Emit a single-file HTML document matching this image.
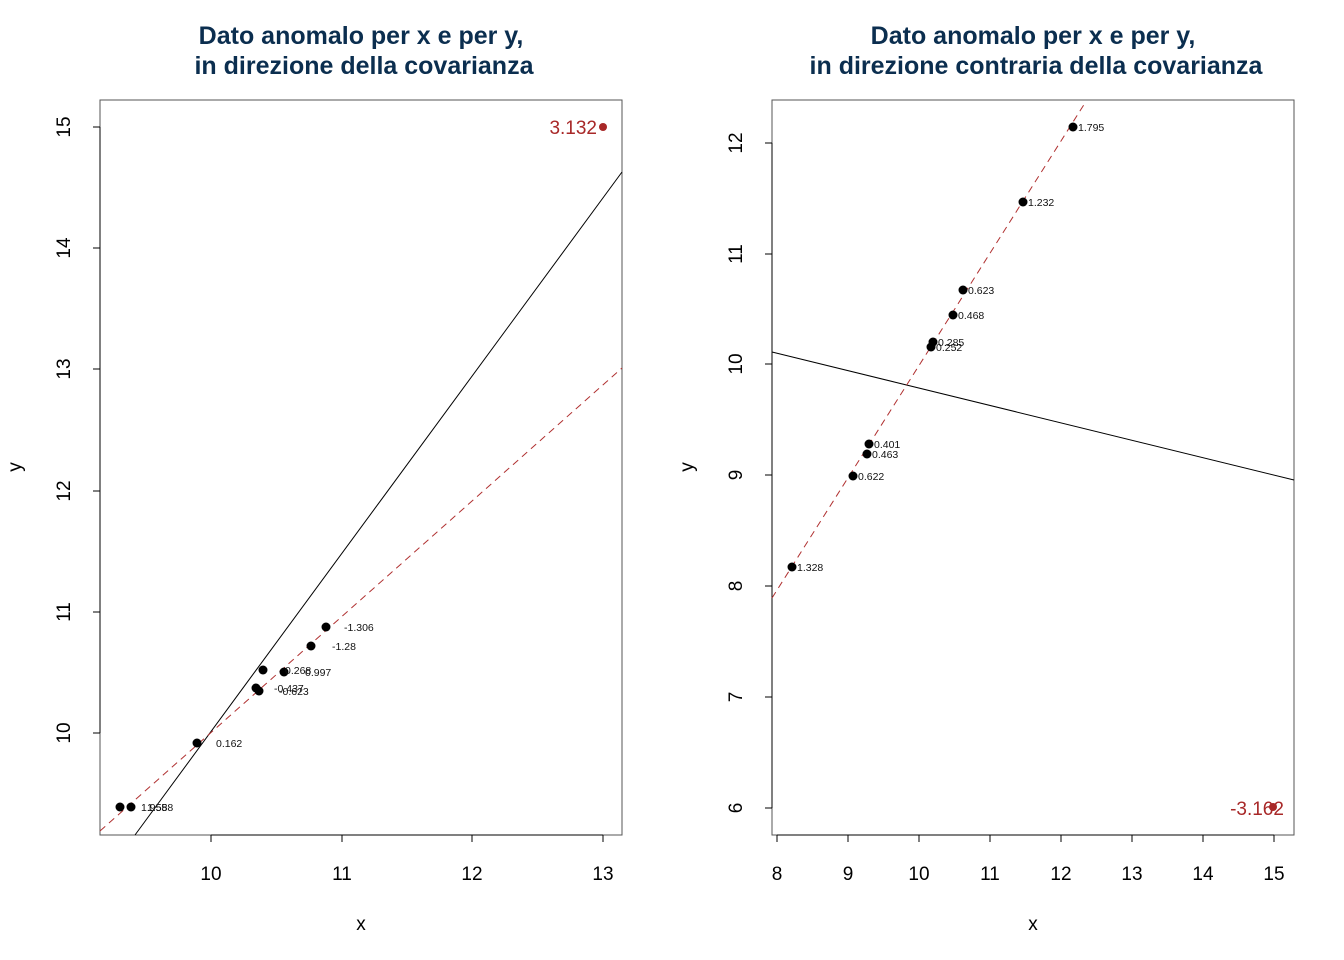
<!DOCTYPE html>
<html><head><meta charset="utf-8"><style>body{margin:0;background:#fff}svg{display:block}text{font-family:"Liberation Sans",sans-serif}</style></head><body>
<svg width="1344" height="960" xmlns="http://www.w3.org/2000/svg">
<g font-weight="bold" font-size="25" fill="#0b2e4f" text-anchor="middle">
<text x="361" y="44">Dato anomalo per x e per y,</text>
<text x="364" y="74">in direzione della covarianza</text>
<text x="1033" y="44">Dato anomalo per x e per y,</text>
<text x="1036" y="74">in direzione contraria della covarianza</text>
</g>
<!-- LEFT -->
<rect x="100" y="100" width="522" height="735" fill="none" stroke="#555" stroke-width="1"/>
<g stroke="#000" stroke-width="1">
<line x1="211" y1="835" x2="603" y2="835"/>
<line x1="211" y1="835" x2="211" y2="842"/><line x1="342" y1="835" x2="342" y2="842"/><line x1="472" y1="835" x2="472" y2="842"/><line x1="603" y1="835" x2="603" y2="842"/>
<line x1="100" y1="127" x2="100" y2="733"/>
<line x1="93" y1="127" x2="100" y2="127"/><line x1="93" y1="248" x2="100" y2="248"/><line x1="93" y1="369" x2="100" y2="369"/><line x1="93" y1="491" x2="100" y2="491"/><line x1="93" y1="612" x2="100" y2="612"/><line x1="93" y1="733" x2="100" y2="733"/>
</g>
<g font-size="19" text-anchor="middle" fill="#000">
<text x="211" y="880">10</text><text x="342" y="880">11</text><text x="472" y="880">12</text><text x="603" y="880">13</text>
<text x="361" y="930">x</text>
<text transform="translate(70,127) rotate(-90)">15</text>
<text transform="translate(70,248) rotate(-90)">14</text>
<text transform="translate(70,369) rotate(-90)">13</text>
<text transform="translate(70,491) rotate(-90)">12</text>
<text transform="translate(70,612) rotate(-90)">11</text>
<text transform="translate(70,733) rotate(-90)">10</text>
<text transform="translate(21,467) rotate(-90)">y</text>
</g>
<line x1="135" y1="835" x2="622" y2="172" stroke="#000"/>
<line x1="100" y1="831" x2="622" y2="368" stroke="#b03030" stroke-dasharray="7,5"/>
<g fill="#000">
<circle cx="120" cy="807" r="4.5"/><circle cx="131" cy="807" r="4.5"/><circle cx="197" cy="743" r="4.5"/><circle cx="256" cy="688" r="4.5"/><circle cx="259" cy="691" r="4.5"/><circle cx="263" cy="670" r="4.5"/><circle cx="284" cy="672" r="4.5"/><circle cx="311" cy="646" r="4.5"/><circle cx="326" cy="627" r="4.5"/>
</g>
<circle cx="603" cy="127" r="4" fill="#a82828"/>
<text x="597" y="134" font-size="19" fill="#a82828" text-anchor="end">3.132</text>
<g font-size="10.5" fill="#111">
<text x="344" y="631">-1.306</text><text x="332" y="650">-1.28</text><text x="285" y="674">0.268</text><text x="305" y="676">0.997</text>
<text x="274" y="692">-0.437</text><text x="279" y="695">-0.623</text><text x="216" y="747">0.162</text>
<text x="141" y="811">1.955</text><text x="147" y="811">1.588</text>
</g>
<!-- RIGHT -->
<rect x="772" y="100" width="522" height="735" fill="none" stroke="#555" stroke-width="1"/>
<g stroke="#000" stroke-width="1">
<line x1="777" y1="835" x2="1274" y2="835"/>
<line x1="777" y1="835" x2="777" y2="842"/><line x1="848" y1="835" x2="848" y2="842"/><line x1="919" y1="835" x2="919" y2="842"/><line x1="990" y1="835" x2="990" y2="842"/><line x1="1061" y1="835" x2="1061" y2="842"/><line x1="1132" y1="835" x2="1132" y2="842"/><line x1="1203" y1="835" x2="1203" y2="842"/><line x1="1274" y1="835" x2="1274" y2="842"/>
<line x1="772" y1="143" x2="772" y2="808"/>
<line x1="765" y1="143" x2="772" y2="143"/><line x1="765" y1="254" x2="772" y2="254"/><line x1="765" y1="364" x2="772" y2="364"/><line x1="765" y1="475" x2="772" y2="475"/><line x1="765" y1="586" x2="772" y2="586"/><line x1="765" y1="697" x2="772" y2="697"/><line x1="765" y1="808" x2="772" y2="808"/>
</g>
<g font-size="19" text-anchor="middle" fill="#000">
<text x="777" y="880">8</text><text x="848" y="880">9</text><text x="919" y="880">10</text><text x="990" y="880">11</text><text x="1061" y="880">12</text><text x="1132" y="880">13</text><text x="1203" y="880">14</text><text x="1274" y="880">15</text>
<text x="1033" y="930">x</text>
<text transform="translate(742,143) rotate(-90)">12</text>
<text transform="translate(742,254) rotate(-90)">11</text>
<text transform="translate(742,364) rotate(-90)">10</text>
<text transform="translate(742,475) rotate(-90)">9</text>
<text transform="translate(742,586) rotate(-90)">8</text>
<text transform="translate(742,697) rotate(-90)">7</text>
<text transform="translate(742,808) rotate(-90)">6</text>
<text transform="translate(693,467) rotate(-90)">y</text>
</g>
<line x1="772" y1="352" x2="1294" y2="480" stroke="#000"/>
<line x1="772" y1="598" x2="1085" y2="103" stroke="#b03030" stroke-dasharray="7,5"/>
<g fill="#000">
<circle cx="792" cy="567" r="4.5"/><circle cx="853" cy="476" r="4.5"/><circle cx="867" cy="454" r="4.5"/><circle cx="869" cy="444" r="4.5"/><circle cx="931" cy="347" r="4.5"/><circle cx="933" cy="342" r="4.5"/><circle cx="953" cy="315" r="4.5"/><circle cx="963" cy="290" r="4.5"/><circle cx="1023" cy="202" r="4.5"/><circle cx="1073" cy="127" r="4.5"/>
</g>
<circle cx="1273" cy="807" r="4" fill="#a82828"/>
<text x="1257" y="815" font-size="19" fill="#a82828" text-anchor="middle">-3.162</text>
<g font-size="10.5" fill="#111">
<text x="797" y="571">1.328</text><text x="858" y="480">0.622</text><text x="872" y="458">0.463</text><text x="874" y="448">0.401</text>
<text x="936" y="351">0.252</text><text x="938" y="346">0.285</text><text x="958" y="319">0.468</text><text x="968" y="294">0.623</text>
<text x="1028" y="206">1.232</text><text x="1078" y="131">1.795</text>
</g>
</svg>
</body></html>
